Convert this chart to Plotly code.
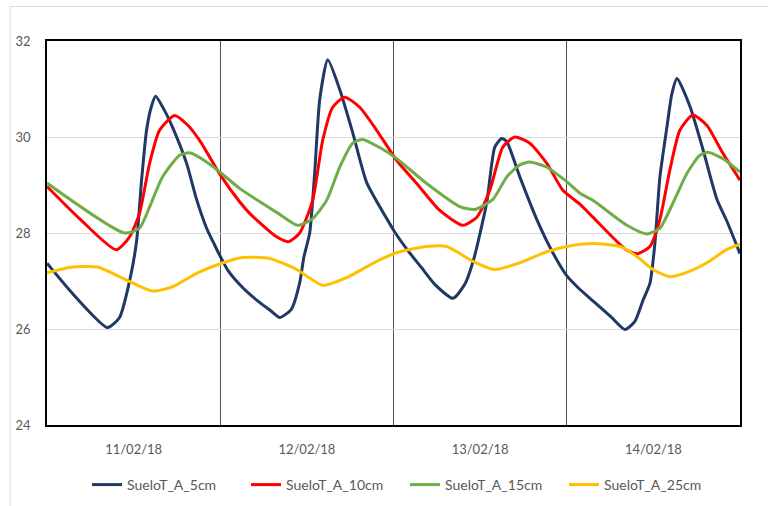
import plotly.graph_objects as go

# time in hours since 11/02/18 00:00
t_5 = [0, 3.53, 8.39, 10.05, 11.44, 12.41, 13.1, 13.79, 14.49, 15.04, 16.29, 17.4, 19.34, 20.72, 22.11, 23.22, 24.15, 25.06,
       26.92, 29.22, 31.08, 32.23, 33.85, 35.0, 35.6, 36.39, 37.08, 37.78, 38.89, 40.55, 42.35, 44.29, 47.06,
       48.17, 50.01, 51.87, 53.72, 56.25, 57.87, 59.16, 60.92, 62.03, 63.0, 63.7, 65.5, 67.86, 70.07,
       72.05, 73.58, 75.9, 78.21, 80.05, 81.44, 82.59, 83.52, 84.21, 84.9, 85.87, 86.56, 87.27,
       89.06, 90.87, 92.81, 94.2, 96]
v_5 = [27.37, 26.74, 26.03, 26.24, 27.0, 27.83, 29.1, 30.14, 30.65, 30.85, 30.55, 30.2, 29.45, 28.7, 28.1, 27.75, 27.47, 27.22,
       26.89, 26.58, 26.37, 26.24, 26.41, 26.96, 27.51, 28.0, 29.25, 30.78, 31.61, 30.99, 30.09, 29.05, 28.3,
       28.02, 27.63, 27.28, 26.93, 26.64, 26.93, 27.48, 28.64, 29.79, 29.97, 29.9, 29.17, 28.28, 27.59,
       27.1, 26.86, 26.55, 26.24, 25.99, 26.16, 26.61, 26.95, 27.78, 29.16, 30.2, 30.9, 31.22,
       30.64, 29.74, 28.7, 28.24, 27.57]

t_10 = [0, 4.5, 9.59, 11.44, 12.82, 14.21, 15.59, 17.67, 19.48, 21.14, 24.05, 26.68, 28.07, 31.81, 33.48, 35.0,
        36.8, 38.19, 39.58, 41.24, 43.32, 45.67, 48.45, 51.22, 54.41, 57.6, 59.54, 61.34, 63.14, 64.8, 66.88,
        69.24, 71.46, 73.82, 75.62, 80.33, 81.86, 83.52, 84.9, 86.28, 87.67, 89.47, 91.42, 93.63, 96]
v_10 = [28.97, 28.3, 27.65, 27.92, 28.41, 29.45, 30.14, 30.45, 30.25, 29.93, 29.2, 28.65, 28.41, 27.92, 27.82, 28.0,
        28.68, 29.93, 30.62, 30.83, 30.62, 30.14, 29.51, 29.03, 28.47, 28.16, 28.33, 28.89, 29.79, 30.0, 29.87,
        29.45, 28.89, 28.6, 28.33, 27.64, 27.57, 27.72, 28.28, 29.31, 30.14, 30.46, 30.24, 29.66, 29.1]

t_15 = [0, 10.74, 12.82, 14.21, 16.01, 18.37, 19.75, 22.11, 24.19, 26.68, 31.81, 34.73, 36.8, 38.74, 40.55,
        42.35, 43.74, 46.09, 48.45, 52.6, 57.18, 59.26, 61.76, 63.7, 65.5, 66.88, 69.24, 72.0, 73.82, 75.62,
        80.33, 83.1, 84.9, 86.7, 88.64, 90.43, 91.55, 93.63, 96]
v_15 = [29.04, 28.0, 28.1, 28.54, 29.17, 29.62, 29.67, 29.48, 29.24, 28.93, 28.43, 28.16, 28.3, 28.68, 29.37,
        29.87, 29.95, 29.78, 29.55, 29.03, 28.55, 28.49, 28.7, 29.17, 29.42, 29.48, 29.37, 29.07, 28.83, 28.68,
        28.16, 27.98, 28.1, 28.62, 29.24, 29.62, 29.68, 29.55, 29.27]

t_25 = [0, 3.53, 7.0, 11.02, 14.62, 17.4, 20.72, 24.19, 27.1, 30.84, 34.59, 38.19, 41.52, 45.67, 48.86, 52.6,
        55.38, 59.0, 62.03, 65.5, 69.24, 72.0, 75.62, 79.36, 81.71, 83.93, 86.28, 88.64, 91.42, 94.2, 96]
v_25 = [27.17, 27.29, 27.29, 27.02, 26.79, 26.88, 27.16, 27.37, 27.49, 27.47, 27.24, 26.91, 27.07, 27.41, 27.61, 27.72,
        27.72, 27.41, 27.24, 27.38, 27.61, 27.72, 27.78, 27.72, 27.51, 27.24, 27.09, 27.18, 27.38, 27.66, 27.76]

day_ticks = [12, 36, 60, 84]
day_labels = ["11/02/18", "12/02/18", "13/02/18", "14/02/18"]
day_bounds = [24, 48, 72]
y_ticks = [24, 26, 28, 30, 32]

series = [
    ("SueloT_A_5cm", t_5, v_5, "#203864"),
    ("SueloT_A_10cm", t_10, v_10, "#FF0000"),
    ("SueloT_A_15cm", t_15, v_15, "#70AD47"),
    ("SueloT_A_25cm", t_25, v_25, "#FFC000"),
]

fig = go.Figure()
for name, t, v, c in series:
    fig.add_trace(go.Scatter(x=t, y=v, name=name, mode="lines",
                             line=dict(color=c, width=3, shape="spline", smoothing=0.6)))

font = dict(family="Lato, Carlito, Calibri, sans-serif", size=13, color="#595959")

fig.update_layout(
    width=768, height=506,
    margin=dict(l=47, r=28, t=41, b=81, autoexpand=False),
    paper_bgcolor="white", plot_bgcolor="white",
    font=font,
    showlegend=True,
    legend=dict(orientation="h", xref="container", yref="container",
                x=87 / 768, xanchor="left", y=1 - 485 / 506, yanchor="middle",
                font=dict(family=font["family"], size=14, color="#595959"),
                itemwidth=30, tracegroupgap=0, entrywidth=114, entrywidthmode="pixels"),
    xaxis=dict(range=[0, 96], tickmode="array", tickvals=day_ticks, ticktext=day_labels,
               showgrid=False, zeroline=False, ticks="", showline=True, linecolor="black",
               linewidth=1.5, mirror=True, ticklabelstandoff=12, automargin=False,
               minor=dict(tickmode="array", tickvals=day_bounds, showgrid=True,
                          gridcolor="#505050", gridwidth=1, ticks="")),
    yaxis=dict(range=[24, 32], tickmode="array", tickvals=y_ticks, showgrid=True,
               gridcolor="#D9D9D9", gridwidth=1, zeroline=False, ticks="", showline=True,
               linecolor="black", linewidth=1.5, mirror=True, ticklabelstandoff=12, automargin=False),
    shapes=[dict(type="rect", xref="paper", yref="paper",
                 x0=(10 - 47) / 693, x1=1.2, y0=-0.3, y1=1 + (41 - 6.5) / 384,
                 line=dict(color="#D9D9D9", width=1), fillcolor="rgba(0,0,0,0)", layer="below")],
)

fig.write_html("out.html", config={"displayModeBar": False},
               post_script="document.body.style.margin='0';document.body.style.padding='0';")
